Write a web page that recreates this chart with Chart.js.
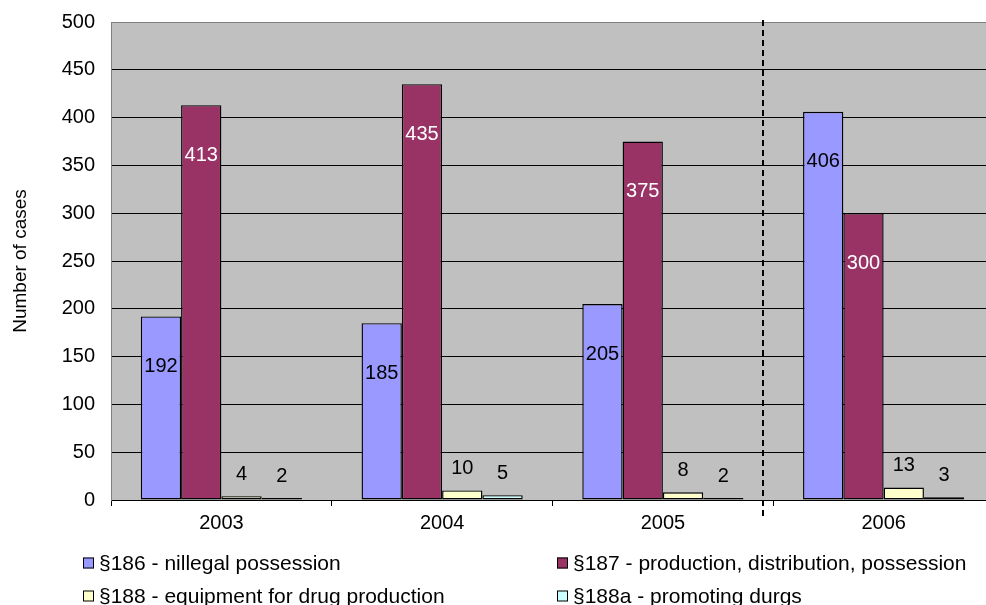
<!DOCTYPE html>
<html>
<head>
<meta charset="utf-8">
<title>Drug offence cases 2003–2006</title>
<script src="https://cdn.jsdelivr.net/npm/chart.js@4/dist/chart.umd.min.js"></script>
<style>
  html, body { margin: 0; padding: 0; background: #ffffff; overflow: hidden; }
  #wrap { width: 1000px; height: 605px; position: relative; }
</style>
</head>
<body>
<div id="wrap"><canvas id="chart" width="1000" height="605"></canvas></div>
<script>
// Categories and series
const years = ['2003', '2004', '2005', '2006'];
const seriesNames = [
  '§186 - nillegal possession',
  '§187 - production, distribution, possession',
  '§188 - equipment for drug production',
  '§188a - promoting durgs'
];
const possession186 = [192, 185, 205, 406];
const production187 = [413, 435, 375, 300];
const equipment188 = [4, 10, 8, 13];
const promoting188a = [2, 5, 2, 3];

// Value axis
const yMin = 0;
const yMax = 500;
const yStep = 50;
const yTitle = 'Number of cases';

const FONT = "'Liberation Sans', Arial, Helvetica, sans-serif";
const seriesColors = ['#9999FF', '#993366', '#FFFFCC', '#CCFFFF'];
const labelColors = ['#000000', '#FFFFFF', '#000000', '#000000'];

// Gray plot area fill
const plotBackground = {
  id: 'plotBackground',
  beforeDraw(chart) {
    const { ctx, chartArea: a } = chart;
    ctx.save();
    ctx.fillStyle = '#C0C0C0';
    ctx.fillRect(a.left, a.top, a.right - a.left, a.bottom - a.top);
    ctx.restore();
  }
};

// Dashed separator before the last year
const yearDivider = {
  id: 'yearDivider',
  afterDatasetsDraw(chart) {
    const { ctx, chartArea: a, scales: { x } } = chart;
    const step = x.getPixelForValue(3) - x.getPixelForValue(2);
    const px = Math.round((x.getPixelForValue(2) + x.getPixelForValue(3)) / 2 - step * 0.045);
    ctx.save();
    ctx.strokeStyle = '#000000';
    ctx.lineWidth = 2;
    ctx.setLineDash([6, 4]);
    ctx.beginPath();
    ctx.moveTo(px, a.top - 2);
    ctx.lineTo(px, a.bottom + 16);
    ctx.stroke();
    ctx.restore();
  }
};

// Value labels: inside tall bars, above short ones
const valueLabels = {
  id: 'valueLabels',
  afterDatasetsDraw(chart) {
    const { ctx } = chart;
    ctx.save();
    ctx.font = '20px ' + FONT;
    ctx.textAlign = 'center';
    ctx.textBaseline = 'middle';
    chart.data.datasets.forEach((ds, di) => {
      const meta = chart.getDatasetMeta(di);
      meta.data.forEach((bar, i) => {
        const v = ds.data[i];
        let y;
        if (v > 50) {
          y = bar.y + 50;
          ctx.fillStyle = labelColors[di];
        } else {
          y = bar.y - 22;
          ctx.fillStyle = '#000000';
        }
        ctx.fillText(String(v), bar.x, y);
      });
    });
    ctx.restore();
  }
};

// Two-column legend under the axis
const gridLegend = {
  id: 'gridLegend',
  afterDraw(chart) {
    const { ctx } = chart;
    const cols = [83, 557];
    const rows = [563, 596];
    const box = 11;
    ctx.save();
    ctx.font = '21px ' + FONT;
    ctx.textAlign = 'left';
    ctx.textBaseline = 'middle';
    chart.data.datasets.forEach((ds, i) => {
      const bx = cols[i % 2];
      const cy = rows[Math.floor(i / 2)];
      ctx.fillStyle = ds.backgroundColor;
      ctx.fillRect(bx, cy - box / 2, box, box);
      ctx.strokeStyle = '#000000';
      ctx.lineWidth = 1;
      ctx.strokeRect(bx + 0.5, cy - box / 2 + 0.5, box - 1, box - 1);
      ctx.fillStyle = '#000000';
      ctx.fillText(ds.label, bx + 16, cy + 1);
    });
    ctx.restore();
  }
};

const seriesData = [possession186, production187, equipment188, promoting188a];

new Chart(document.getElementById('chart'), {
  type: 'bar',
  data: {
    labels: years,
    datasets: seriesData.map((d, i) => ({
      label: seriesNames[i],
      data: d,
      backgroundColor: seriesColors[i],
      borderColor: '#000000',
      borderWidth: 1.4,
      borderSkipped: false,
      barPercentage: 1,
      categoryPercentage: 0.73
    }))
  },
  options: {
    responsive: false,
    animation: false,
    layout: { padding: { top: 22, right: 6, bottom: 0, left: 0 } },
    plugins: {
      legend: { display: false },
      title: { display: false },
      tooltip: { enabled: false }
    },
    scales: {
      x: {
        offset: true,
        grid: {
          offset: true,
          drawOnChartArea: false,
          drawTicks: true,
          tickLength: 6,
          color: '#000000'
        },
        border: { color: '#000000', width: 1 },
        ticks: { color: '#000000', font: { family: FONT, size: 20 }, padding: 5, maxRotation: 0 },
        afterFit(scale) { scale.height = 105; }
      },
      y: {
        min: yMin,
        max: yMax,
        ticks: {
          stepSize: yStep,
          color: '#000000',
          font: { family: FONT, size: 20 },
          padding: 2
        },
        grid: {
          drawTicks: true,
          tickLength: 14,
          tickColor: 'rgba(0,0,0,0)',
          color: (c) => (c.tick && c.tick.value === yMax ? '#808080' : '#000000'),
          lineWidth: 1
        },
        border: { color: '#808080', width: 1 },
        title: {
          display: true,
          text: yTitle,
          color: '#000000',
          font: { family: FONT, size: 19 },
          padding: { top: 9, bottom: 0 }
        },
        afterFit(scale) { scale.width = 111; }
      }
    }
  },
  plugins: [plotBackground, yearDivider, valueLabels, gridLegend]
});
</script>
</body>
</html>
